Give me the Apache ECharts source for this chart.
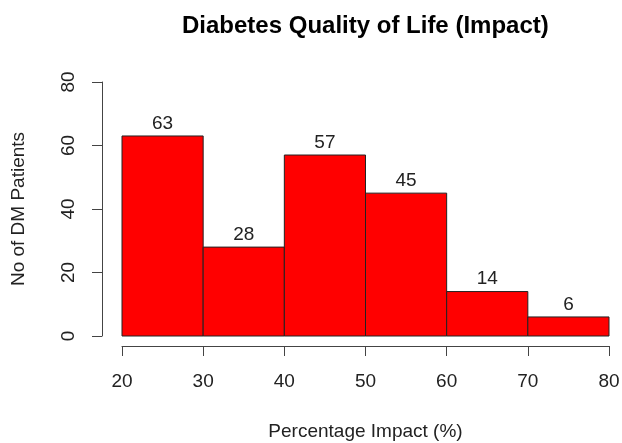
<!DOCTYPE html>
<html lang="en">
  <head>
    <meta charset="UTF-8" />
    <title>Diabetes Quality of Life (Impact)</title>
    <script src="https://cdn.jsdelivr.net/npm/echarts@6/dist/echarts.min.js"></script>
  </head>
  <body style="margin: 0; background: #fff">
    <div id="main" style="width: 622px; height: 443px"></div>
    <script type="text/javascript">
      // histogram bins: [from, to) and patient counts
      const binStarts = [20, 30, 40, 50, 60, 70];
      const binEnds = [30, 40, 50, 60, 70, 80];
      const counts = [63, 28, 57, 45, 14, 6];
      const xTicks = [20, 30, 40, 50, 60, 70, 80];
      const yTicks = [0, 20, 40, 60, 80];

      const font = "Liberation Sans, Arial, sans-serif";
      let myChart = echarts.init(document.getElementById("main"));

      const data = binStarts.map((s, i) => [s, binEnds[i], counts[i]]);

      let options = {
        backgroundColor: "#fff",
        animation: false,
        title: {
          text: "Diabetes Quality of Life (Impact)",
          left: 177,
          top: 9,
          textStyle: { fontFamily: font, fontSize: 24, fontWeight: "bold", color: "#000" },
        },
        grid: { left: 122, right: 13, top: 82, bottom: 107, outerBoundsMode: "none" },
        xAxis: {
          type: "value",
          min: xTicks[0],
          max: xTicks[xTicks.length - 1],
          interval: 10,
          offset: 10,
          name: "Percentage Impact (%)",
          nameLocation: "middle",
          nameGap: 76,
          nameTextStyle: { fontFamily: font, fontSize: 19, color: "#222" },
          axisLine: { show: true, onZero: false, lineStyle: { color: "#444" } },
          axisTick: { show: true, length: 10, lineStyle: { color: "#444" } },
          axisLabel: { fontFamily: font, fontSize: 19, color: "#222", margin: 26 },
          splitLine: { show: false },
        },
        yAxis: {
          type: "value",
          min: yTicks[0],
          max: yTicks[yTicks.length - 1],
          interval: 20,
          offset: 20,
          name: "No of DM Patients",
          nameLocation: "middle",
          nameGap: 74,
          nameTextStyle: { fontFamily: font, fontSize: 19, color: "#222" },
          axisLine: { show: true, onZero: false, lineStyle: { color: "#444" } },
          axisTick: { show: true, length: 10, lineStyle: { color: "#444" } },
          axisLabel: { fontFamily: font, fontSize: 19, color: "#222", margin: 24, rotate: 90 },
          splitLine: { show: false },
        },
        series: [
          {
            type: "custom",
            data: data,
            encode: { x: [0, 1], y: 2 },
            renderItem: function (params, api) {
              const p0 = api.coord([api.value(0), api.value(2)]);
              const p1 = api.coord([api.value(1), 0]);
              return {
                type: "group",
                children: [
                  {
                    type: "rect",
                    shape: { x: p0[0], y: p0[1], width: p1[0] - p0[0], height: p1[1] - p0[1] },
                    style: { fill: "#ff0000", stroke: "#222", lineWidth: 1 },
                  },
                  {
                    type: "text",
                    x: (p0[0] + p1[0]) / 2,
                    y: p0[1] - 3,
                    style: {
                      text: String(api.value(2)),
                      fontFamily: font,
                      fontSize: 19,
                      fill: "#222",
                      align: "center",
                      verticalAlign: "bottom",
                    },
                  },
                ],
              };
            },
          },
        ],
      };

      myChart.setOption(options);
    </script>
  </body>
</html>
